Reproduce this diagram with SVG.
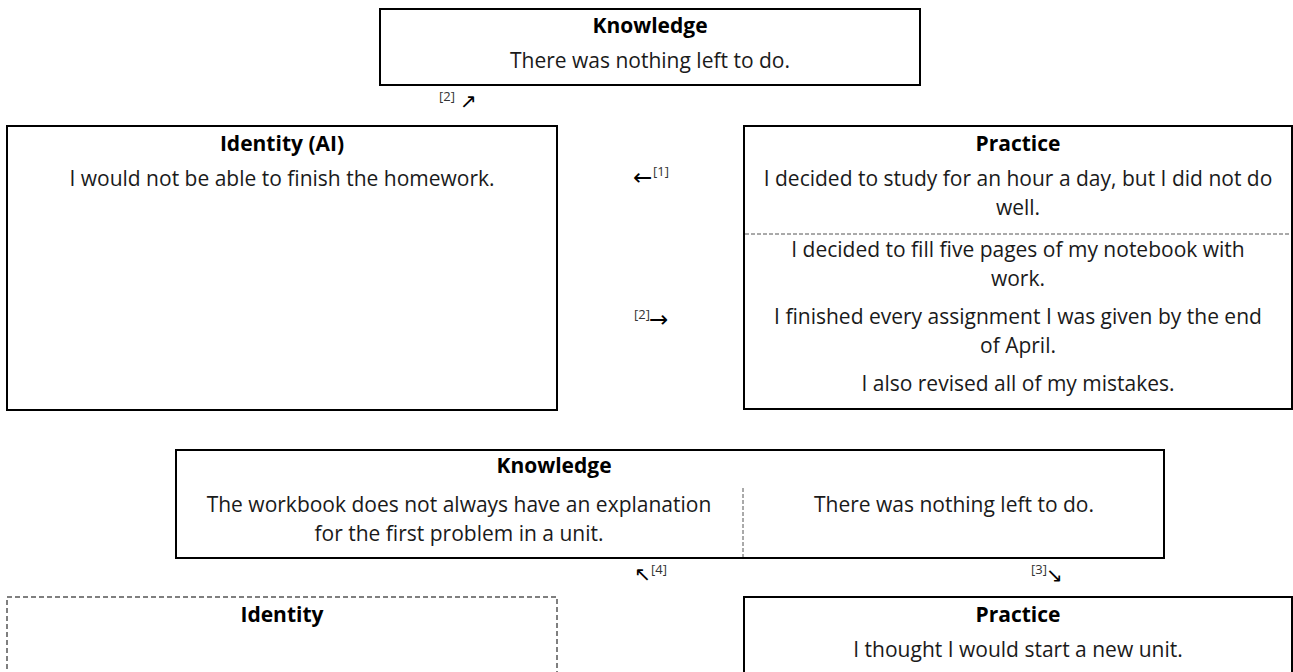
<svg xmlns="http://www.w3.org/2000/svg" width="1293" height="672" viewBox="0 0 1293 672">
<style>
  .box{fill:#fff;stroke:#000;stroke-width:2}
  .dbox{fill:#fff;stroke:#555;stroke-width:1.5;stroke-dasharray:5 3}
  .div{stroke:#555;stroke-width:1;stroke-dasharray:4 2;fill:none}
  .t{font-family:"Open Sans","Noto Sans","DejaVu Sans",sans-serif;font-size:21px;fill:#1a1a1a;text-anchor:middle}
  .h{font-weight:bold;fill:#000}
  .sup{font-family:"Open Sans","Noto Sans",sans-serif;font-size:13px;fill:#333}
  .arr{font-family:"DejaVu Sans",sans-serif;font-size:20px;fill:#000}
  .harr{font-family:"DejaVu Sans",sans-serif;font-size:23px;fill:#000}
</style>
<rect width="1293" height="672" fill="#fff"/>

<g id="knowledge-top">
  <rect class="box" x="380" y="9" width="540" height="76"/>
  <text class="t h" x="650" y="33">Knowledge</text>
  <text class="t" x="650" y="68">There was nothing left to do.</text>
</g>

<g id="identity-ai">
  <rect class="box" x="7" y="126" width="550" height="284"/>
  <text class="t h" x="282" y="151">Identity (AI)</text>
  <text class="t" x="282" y="186">I would not be able to finish the homework.</text>
</g>

<g id="practice-top">
  <rect class="box" x="744" y="126" width="548" height="283"/>
  <text class="t h" x="1018" y="151">Practice</text>
  <text class="t" x="1018" y="186">I decided to study for an hour a day, but I did not do</text>
  <text class="t" x="1018" y="215">well.</text>
  <line class="div" x1="745" y1="234" x2="1291" y2="234"/>
  <text class="t" x="1018" y="257">I decided to fill five pages of my notebook with</text>
  <text class="t" x="1018" y="286">work.</text>
  <text class="t" x="1018" y="324">I finished every assignment I was given by the end</text>
  <text class="t" x="1018" y="353">of April.</text>
  <text class="t" x="1018" y="391">I also revised all of my mistakes.</text>
</g>

<g id="knowledge-bottom">
  <rect class="box" x="176" y="450" width="988" height="108"/>
  <text class="t h" x="554" y="473">Knowledge</text>
  <text class="t" x="459" y="512">The workbook does not always have an explanation</text>
  <text class="t" x="459" y="541">for the first problem in a unit.</text>
  <line class="div" x1="743" y1="488" x2="743" y2="557"/>
  <text class="t" x="954" y="512">There was nothing left to do.</text>
</g>

<g id="identity-bottom">
  <rect class="dbox" x="7" y="597" width="550" height="90"/>
  <text class="t h" x="282" y="622">Identity</text>
</g>

<g id="practice-bottom">
  <rect class="box" x="744" y="597" width="548" height="90"/>
  <text class="t h" x="1018" y="622">Practice</text>
  <text class="t" x="1018" y="657">I thought I would start a new unit.</text>
</g>

<g id="connectors">
  <text class="sup" x="439" y="101">[2]</text><text class="arr" x="460" y="108">↗</text>
  <text class="harr" x="633" y="185">←</text><text class="sup" x="653" y="176">[1]</text>
  <text class="sup" x="634" y="319">[2]</text><text class="harr" x="649" y="327">→</text>
  <text class="arr" x="634" y="581">↖</text><text class="sup" x="651" y="574">[4]</text>
  <text class="sup" x="1031" y="574">[3]</text><text class="arr" x="1046" y="582">↘</text>
</g>
</svg>
